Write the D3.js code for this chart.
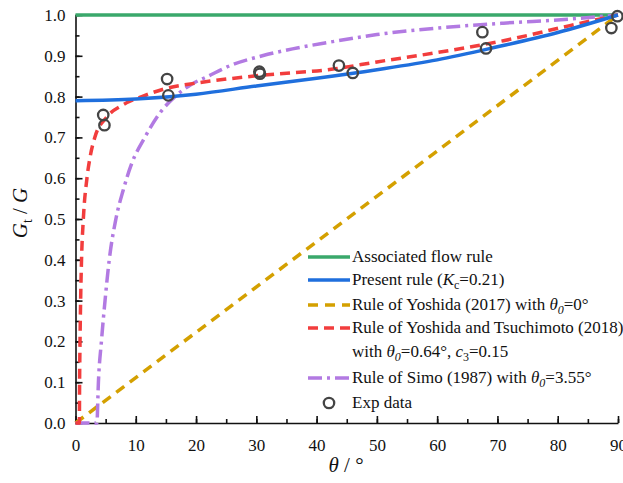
<!DOCTYPE html>
<html lang="en">
<head>
<meta charset="UTF-8">
<script src="https://d3js.org/d3.v7.min.js"></script>
<style>
  body { margin: 0; background: #fff; }
</style>
</head>
<body>
<script>
// curves: [theta, Gt/G]
const associated = [[0, 1.0], [90, 1.0]];
const present = [[0, 0.79], [10, 0.794], [20, 0.806], [30, 0.826], [40, 0.845], [50, 0.866],
  [60, 0.89], [70, 0.922], [80, 0.957], [90, 1.0]];
const yoshida2017 = [[0, 0], [90, 1.0]];
const yoshidaTsuchi = [[0, 0], [0.64, 0], [0.68, 0.1], [0.75, 0.2], [0.85, 0.3], [1.0, 0.4],
  [1.3, 0.5], [1.9, 0.6], [2.4, 0.65], [3.2, 0.7], [5.2, 0.75], [7.9, 0.78], [11, 0.80],
  [15, 0.82], [20, 0.833], [30, 0.851], [43, 0.868], [50, 0.885], [60, 0.908], [71, 0.937],
  [82, 0.974], [90, 1.0]];
const simo = [[0, 0], [3.55, 0], [3.8, 0.1], [4.3, 0.2], [4.9, 0.3], [5.6, 0.4], [6.7, 0.5],
  [7.9, 0.57], [9.3, 0.635], [11.5, 0.70], [14, 0.76], [16.5, 0.80], [19, 0.828], [22, 0.85],
  [26, 0.878], [31, 0.90], [36, 0.917], [42, 0.933], [50, 0.952], [60, 0.968], [71, 0.98],
  [82, 0.99], [90, 1.0]];
const expTheta = [4.6, 4.8, 15.2, 15.4, 30.5, 30.6, 43.7, 46.0, 67.5, 68.1, 88.9, 89.9];
const expG = [0.755, 0.730, 0.843, 0.803, 0.861, 0.856, 0.876, 0.858, 0.958, 0.918, 0.968, 0.997];

const xTicks = [0, 10, 20, 30, 40, 50, 60, 70, 80, 90];
const yTicks = [0, 0.1, 0.2, 0.3, 0.4, 0.5, 0.6, 0.7, 0.8, 0.9, 1.0];

const SERIF = '"Liberation Serif", "Times New Roman", Times, "DejaVu Serif", serif';
// inline styles so nothing else overrides the font
function font(sel, size) {
  sel.style("font-family", SERIF, "important").style("font-size", size + "px", "important")
    .style("fill", "#111");
  return sel;
}

const W = 623, H = 483;
const svg = d3.select("body").append("svg").attr("width", W).attr("height", H);

const x = d3.scaleLinear().domain([0, 90]).range([75.5, 618]);
const y = d3.scaleLinear().domain([0, 1]).range([423, 15]);

// axes, ticks pointing inward
const xMinor = d3.range(0, 91, 5);
const yMinor = d3.range(0, 1.001, 0.05);
svg.append("g").attr("transform", "translate(0,423)")
  .call(d3.axisBottom(x).tickValues(xMinor).tickSize(-4).tickFormat("").tickSizeOuter(0))
  .call(g => g.select(".domain").remove());
svg.append("g").attr("transform", "translate(75.5,0)")
  .call(d3.axisLeft(y).tickValues(yMinor).tickSize(-4).tickFormat("").tickSizeOuter(0))
  .call(g => g.select(".domain").remove());
const xAxis = svg.append("g").attr("transform", "translate(0,423)")
  .call(d3.axisBottom(x).tickValues(xTicks).tickSize(-7).tickSizeOuter(0).tickFormat(d3.format("d")));
const yAxis = svg.append("g").attr("transform", "translate(75.5,0)")
  .call(d3.axisLeft(y).tickValues(yTicks).tickSize(-7).tickSizeOuter(0).tickFormat(d3.format(".1f")));
[xAxis, yAxis].forEach(a => {
  a.selectAll("path, line").attr("stroke", "#111").attr("stroke-width", 1.6);
  font(a.selectAll("text"), 17);
});
xAxis.selectAll("text").attr("y", 16);
yAxis.selectAll("text").attr("x", -10);
svg.selectAll("g line").attr("stroke", "#111").attr("stroke-width", 1.6);

const line = d3.line().x(d => x(d[0])).y(d => y(d[1])).curve(d3.curveMonotoneX);

const series = [
  { data: associated, color: "#3aa86b", dash: null },
  { data: yoshida2017, color: "#d4a000", dash: "10,7" },
  { data: simo, color: "#b27ae2", dash: "14,5,3,5" },
  { data: yoshidaTsuchi, color: "#f23d3d", dash: "10,6" },
  { data: present, color: "#1f6fdd", dash: null }
];
series.forEach(s => {
  svg.append("path").datum(s.data).attr("d", line)
    .attr("fill", "none").attr("stroke", s.color).attr("stroke-width", 3.5)
    .attr("stroke-dasharray", s.dash);
});

svg.selectAll(".pt").data(expTheta).enter().append("circle")
  .attr("class", "pt")
  .attr("cx", d => x(d)).attr("cy", (d, i) => y(expG[i]))
  .attr("r", 5.2).attr("fill", "none").attr("stroke", "#444").attr("stroke-width", 2.3);

// legend
const lg = svg.append("g");
const rows = [
  { cy: 257, color: "#3aa86b", dash: null },
  { cy: 280, color: "#1f6fdd", dash: null },
  { cy: 305, color: "#d4a000", dash: "10,7" },
  { cy: 328, color: "#f23d3d", dash: "10,6" },
  { cy: 378, color: "#b27ae2", dash: "14,5,3,5" }
];
rows.forEach(r => {
  lg.append("line").attr("x1", 308).attr("x2", 350).attr("y1", r.cy).attr("y2", r.cy)
    .attr("stroke", r.color).attr("stroke-width", 3.5).attr("stroke-dasharray", r.dash);
});
lg.append("circle").attr("cx", 329).attr("cy", 403).attr("r", 5.2)
  .attr("fill", "none").attr("stroke", "#444").attr("stroke-width", 2.3);

function addText(yb, parts) {
  const t = font(lg.append("text").attr("x", 352).attr("y", yb), 17);
  parts.forEach(p => {
    const ts = t.append("tspan").text(p.t);
    if (p.i) ts.style("font-style", "italic");
    if (p.sub) ts.attr("dy", 4).style("font-size", "12px", "important");
    if (p.up) ts.attr("dy", -4);
  });
}
addText(262, [{ t: "Associated flow rule" }]);
addText(285, [{ t: "Present rule (" }, { t: "K", i: true }, { t: "c", sub: true }, { t: "=0.21)", up: true }]);
addText(310, [{ t: "Rule of Yoshida (2017) with " }, { t: "θ", i: true }, { t: "0", sub: true, i: true }, { t: "=0°", up: true }]);
addText(333, [{ t: "Rule of Yoshida and Tsuchimoto (2018)" }]);
addText(357, [{ t: "with " }, { t: "θ", i: true }, { t: "0", sub: true, i: true }, { t: "=0.64°, ", up: true },
  { t: "c", i: true }, { t: "3", sub: true }, { t: "=0.15", up: true }]);
addText(383, [{ t: "Rule of Simo (1987) with " }, { t: "θ", i: true }, { t: "0", sub: true, i: true }, { t: "=3.55°", up: true }]);
addText(408, [{ t: "Exp data" }]);

// axis titles
const xt = font(svg.append("text").attr("x", 346).attr("y", 472).attr("text-anchor", "middle"), 21);
xt.append("tspan").style("font-style", "italic").text("θ");
xt.append("tspan").text(" / °");

const yt = font(svg.append("text").attr("transform", "translate(27,213) rotate(-90)")
  .attr("text-anchor", "middle"), 21);
yt.append("tspan").style("font-style", "italic").text("G");
yt.append("tspan").attr("dy", 5).style("font-size", "14px", "important").text("t");
yt.append("tspan").attr("dy", -5).text(" / ");
yt.append("tspan").style("font-style", "italic").text("G");
</script>
</body>
</html>
